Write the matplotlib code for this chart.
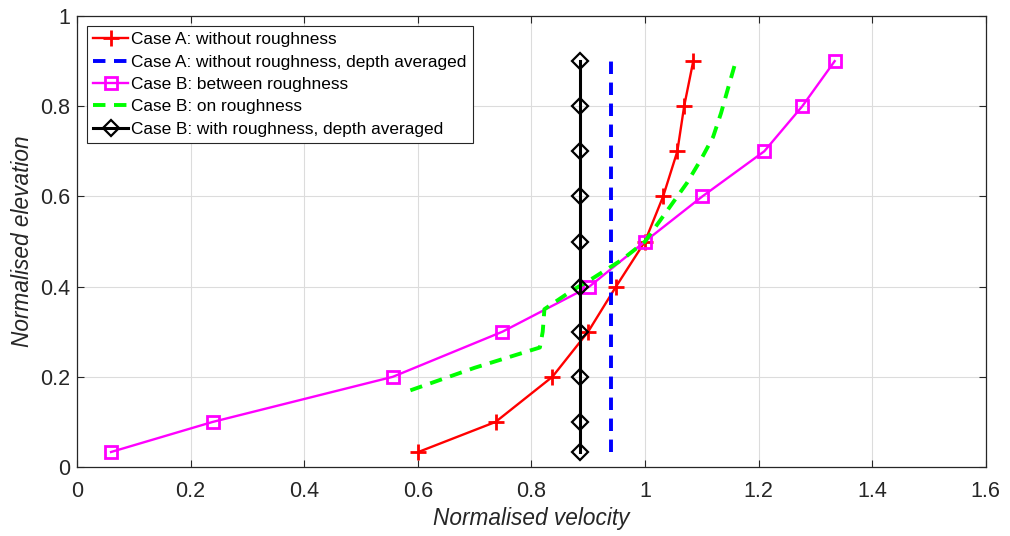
import numpy as np
import matplotlib.pyplot as plt

plt.rcParams['font.family'] = ['Liberation Sans', 'DejaVu Sans']

# normalised elevations of the measuring points
z = [0.0333, 0.1, 0.2, 0.3, 0.4, 0.5, 0.6, 0.7, 0.8, 0.9]

# Case A: without roughness
u_a = [0.601, 0.737, 0.837, 0.900, 0.949, 1.0, 1.032, 1.057, 1.069, 1.085]
u_a_mean = 0.941

# Case B: between roughness
u_b_between = [0.060, 0.239, 0.556, 0.749, 0.902, 1.0, 1.101, 1.210, 1.277, 1.334]

# Case B: on roughness (denser profile)
z_b_on = [0.170, 0.220, 0.265, 0.300, 0.350, 0.390, 0.420, 0.460, 0.500,
          0.570, 0.630, 0.685, 0.732, 0.785, 0.843, 0.900]
u_b_on = [0.587, 0.700, 0.815, 0.820, 0.823, 0.870, 0.910, 0.960, 1.000,
          1.040, 1.074, 1.100, 1.120, 1.134, 1.147, 1.160]

# Case B: with roughness, depth averaged
u_b_mean = 0.886

fig = plt.figure(figsize=(10.1, 5.36), dpi=100)
ax = fig.add_axes([0.0762, 0.1287, 0.8998, 0.8414])

ax.plot(u_a, z, color='#ff0000', lw=1.7, marker='+', ms=11, mew=2,
        label='Case A: without roughness')
ax.plot([u_a_mean] * 2, [z[0], z[-1]], color='#0000ff', lw=2.8,
        ls=(0, (3.2, 2.2)), label='Case A: without roughness, depth averaged')
ax.plot(u_b_between, z, color='#ff00ff', lw=1.7, marker='s', ms=8.5,
        mfc='none', mew=2, label='Case B: between roughness')
ax.plot(u_b_on, z_b_on, color='#00ff00', lw=2.8, ls=(0, (3.2, 2.2)),
        label='Case B: on roughness')
ax.plot([u_b_mean] * len(z), z, color='black', lw=2.2, marker='D', ms=8.5,
        mfc='none', mew=1.6, label='Case B: with roughness, depth averaged')

ax.set_xlim(0, 1.6)
ax.set_ylim(0, 1)
ax.set_xticks(np.arange(0, 1.61, 0.2))
ax.set_yticks(np.arange(0, 1.01, 0.2))
ax.set_xticklabels(['0', '0.2', '0.4', '0.6', '0.8', '1', '1.2', '1.4', '1.6'])
ax.set_yticklabels(['0', '0.2', '0.4', '0.6', '0.8', '1'])
ax.grid(True, color='#dcdcdc', lw=0.8)
ax.set_axisbelow(True)
ax.tick_params(direction='in', top=True, right=True, length=5, width=0.8,
               colors='#262626', labelsize=15.5)
ax.tick_params(axis='x', pad=10)
ax.tick_params(axis='y', pad=5)
for sp in ax.spines.values():
    sp.set_color('#262626')
    sp.set_linewidth(0.9)

ax.set_xlabel('Normalised velocity', fontsize=16.3, style='italic',
              color='#262626', labelpad=4)
ax.set_ylabel('Normalised elevation', fontsize=16.3, style='italic',
              color='#262626', labelpad=4)

leg = ax.legend(loc='upper left', fontsize=12.4, frameon=True, fancybox=False,
                edgecolor='#262626', framealpha=1, borderpad=0.35,
                labelspacing=0.42, handlelength=2.0, handletextpad=0.2,
                borderaxespad=0.6)
leg.get_frame().set_linewidth(0.8)

fig.savefig('out.png', dpi=100)
